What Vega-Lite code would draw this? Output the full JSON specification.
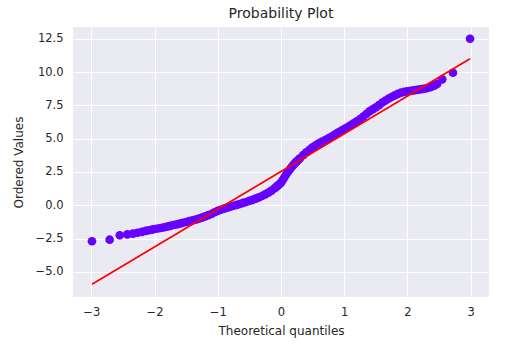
{
  "$schema": "https://vega.github.io/schema/vega-lite/v6.json",
  "autosize": {"type": "none"},
  "padding": {"left": 73, "top": 27, "right": 17, "bottom": 60},
  "width": 416,
  "height": 270,
  "background": "white",
  "title": {"text": "Probability Plot", "fontSize": 14, "font": "DejaVu Sans", "fontWeight": "normal", "color": "#262626", "anchor": "middle", "offset": 6},
  "config": {
    "view": {"fill": "#EAEAF2", "stroke": null},
    "axis": {"domain": false, "ticks": false, "labelOverlap": false, "gridColor": "white", "gridWidth": 1, "gridOpacity": 1, "labelFont": "DejaVu Sans", "labelFontSize": 11.5, "labelColor": "#262626", "titleFont": "DejaVu Sans", "titleFontSize": 12, "titleFontWeight": "normal", "titleColor": "#262626"}
  },
  "datasets": {
    "pts": [
      {"q": -2.99, "v": -2.70}, {"q": -2.71, "v": -2.58}, {"q": -2.55, "v": -2.25}, {"q": -2.43, "v": -2.18},
      {"q": -2.34, "v": -2.12}, {"q": -2.27, "v": -2.06}, {"q": -2.20, "v": -1.99}, {"q": -2.14, "v": -1.92},
      {"q": -2.09, "v": -1.87}, {"q": -2.04, "v": -1.82}, {"q": -2.00, "v": -1.78}, {"q": -1.95, "v": -1.74},
      {"q": -1.90, "v": -1.70}, {"q": -1.85, "v": -1.65}, {"q": -1.80, "v": -1.60}, {"q": -1.75, "v": -1.54},
      {"q": -1.70, "v": -1.48}, {"q": -1.65, "v": -1.43}, {"q": -1.60, "v": -1.37}, {"q": -1.55, "v": -1.31},
      {"q": -1.50, "v": -1.25}, {"q": -1.45, "v": -1.19}, {"q": -1.40, "v": -1.13}, {"q": -1.35, "v": -1.07},
      {"q": -1.30, "v": -1.00}, {"q": -1.25, "v": -0.92}, {"q": -1.20, "v": -0.83}, {"q": -1.15, "v": -0.74},
      {"q": -1.10, "v": -0.65}, {"q": -1.05, "v": -0.52}, {"q": -1.00, "v": -0.42}, {"q": -0.95, "v": -0.33},
      {"q": -0.90, "v": -0.25}, {"q": -0.85, "v": -0.17}, {"q": -0.80, "v": -0.10}, {"q": -0.75, "v": -0.03},
      {"q": -0.70, "v": 0.03}, {"q": -0.65, "v": 0.10}, {"q": -0.60, "v": 0.18}, {"q": -0.55, "v": 0.25},
      {"q": -0.50, "v": 0.33}, {"q": -0.45, "v": 0.41}, {"q": -0.40, "v": 0.50}, {"q": -0.35, "v": 0.60},
      {"q": -0.30, "v": 0.70}, {"q": -0.25, "v": 0.82}, {"q": -0.20, "v": 0.95}, {"q": -0.15, "v": 1.10},
      {"q": -0.10, "v": 1.28}, {"q": -0.075, "v": 1.38}, {"q": -0.05, "v": 1.48}, {"q": -0.025, "v": 1.58},
      {"q": 0.00, "v": 1.70}, {"q": 0.025, "v": 1.88}, {"q": 0.05, "v": 2.07}, {"q": 0.075, "v": 2.27},
      {"q": 0.10, "v": 2.45}, {"q": 0.125, "v": 2.61}, {"q": 0.15, "v": 2.76}, {"q": 0.175, "v": 2.91},
      {"q": 0.20, "v": 3.05}, {"q": 0.225, "v": 3.18}, {"q": 0.25, "v": 3.30}, {"q": 0.275, "v": 3.42},
      {"q": 0.30, "v": 3.53}, {"q": 0.35, "v": 3.76}, {"q": 0.40, "v": 3.97}, {"q": 0.45, "v": 4.17},
      {"q": 0.50, "v": 4.35}, {"q": 0.55, "v": 4.50}, {"q": 0.60, "v": 4.65}, {"q": 0.65, "v": 4.78},
      {"q": 0.70, "v": 4.90}, {"q": 0.75, "v": 5.03}, {"q": 0.80, "v": 5.16}, {"q": 0.85, "v": 5.30},
      {"q": 0.90, "v": 5.45}, {"q": 0.95, "v": 5.58}, {"q": 1.00, "v": 5.72}, {"q": 1.05, "v": 5.86},
      {"q": 1.10, "v": 6.00}, {"q": 1.15, "v": 6.15}, {"q": 1.20, "v": 6.30}, {"q": 1.25, "v": 6.47},
      {"q": 1.30, "v": 6.65}, {"q": 1.35, "v": 6.85}, {"q": 1.40, "v": 7.05}, {"q": 1.45, "v": 7.20},
      {"q": 1.50, "v": 7.35}, {"q": 1.55, "v": 7.52}, {"q": 1.60, "v": 7.70}, {"q": 1.65, "v": 7.85},
      {"q": 1.70, "v": 8.00}, {"q": 1.75, "v": 8.13}, {"q": 1.80, "v": 8.25}, {"q": 1.85, "v": 8.36},
      {"q": 1.90, "v": 8.45}, {"q": 1.95, "v": 8.51}, {"q": 2.00, "v": 8.55}, {"q": 2.05, "v": 8.59},
      {"q": 2.10, "v": 8.62}, {"q": 2.15, "v": 8.66}, {"q": 2.20, "v": 8.70}, {"q": 2.25, "v": 8.74},
      {"q": 2.30, "v": 8.78}, {"q": 2.35, "v": 8.85}, {"q": 2.39, "v": 8.92}, {"q": 2.43, "v": 9.00},
      {"q": 2.47, "v": 9.10}, {"q": 2.55, "v": 9.45}, {"q": 2.72, "v": 9.95}, {"q": 2.99, "v": 12.5}
    ],
    "fit": [
      {"q": -2.99, "v": -5.92},
      {"q": 2.99, "v": 11.0}
    ]
  },
  "encoding": {
    "x": {"field": "q", "type": "quantitative", "scale": {"domain": [-3.29, 3.29], "nice": false, "zero": false}, "axis": {"title": "Theoretical quantiles", "values": [-3, -2, -1, 0, 1, 2, 3], "format": "d", "labelPadding": 9, "titlePadding": 8}},
    "y": {"field": "v", "type": "quantitative", "scale": {"domain": [-6.88, 13.38], "nice": false, "zero": false}, "axis": {"title": "Ordered Values", "values": [-5, -2.5, 0, 2.5, 5, 7.5, 10, 12.5], "format": ".1f", "labelPadding": 10, "titlePadding": 10}}
  },
  "layer": [
    {
      "data": {"name": "pts"},
      "mark": {"type": "circle", "size": 75, "color": "#6600ff", "opacity": 1}
    },
    {
      "data": {"name": "fit"},
      "mark": {"type": "line", "color": "#ff0000", "strokeWidth": 1.7}
    }
  ]
}
